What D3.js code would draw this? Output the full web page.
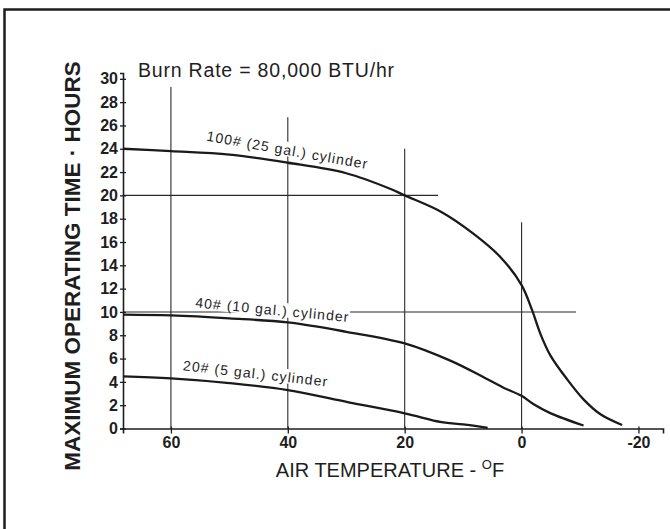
<!DOCTYPE html>
<html>
<head>
<meta charset="utf-8">
<script src="https://cdn.jsdelivr.net/npm/d3@7"></script>
<style>
  body { margin: 0; background: #fff; }
  text { font-family: "Liberation Sans", Arial, Helvetica, sans-serif; fill: #1e1e1e; }
</style>
</head>
<body>
<div id="chart"></div>
<script>
var svgWidth = 670;
var svgHeight = 529;

// Curve data (temperature in F, hours)
var temp100 = [68.2, 60, 50, 40, 30, 22.4, 20, 13.8, 8.2, 3.6, 0, -1.8, -3.2, -4.9, -7.75, -10.6, -13.5, -17.2];
var hours100 = [24.0, 23.8, 23.5, 22.8, 21.9, 20.55, 20.0, 18.6, 16.7, 14.7, 12.3, 10.15, 8.15, 6.3, 4.25, 2.5, 1.22, 0.3];

var temp40 = [68.2, 60, 50, 40, 30, 20, 12.1, 6.5, 3.1, 0, -2, -5, -10.6];
var hours40 = [9.77, 9.7, 9.45, 9.1, 8.3, 7.3, 5.8, 4.4, 3.5, 2.8, 2.1, 1.3, 0.26];

var temp20 = [68.2, 60, 50, 40, 29.6, 20, 13.7, 10, 5.8];
var hours20 = [4.48, 4.3, 3.9, 3.3, 2.25, 1.3, 0.55, 0.35, 0.05];

var curveLabels = ["100# (25 gal.) cylinder", "40# (10 gal.) cylinder", "20# (5 gal.) cylinder"];
var labelTemp = [54, 55.9, 58];
var labelHours = [24.7, 10.4, 5.0];
var labelAngle = [10, 5.5, 6.5];

// reference lines
var gridX = [60, 40, 20, 0];
var gridXTop = [29.3, 26.7, 24.0, 17.7];
var gridY = [20, 10];
var gridYEnd = [14.3, -9.3];

var xTicks = [60, 40, 20, 0, -20];
var yTicks = d3.range(0, 31, 2);

var svg = d3.select("#chart")
    .append("svg")
    .attr("width", svgWidth)
    .attr("height", svgHeight);

// outer frame (runs off the right/bottom edge)
svg.append("rect")
    .attr("x", 4.5)
    .attr("y", 9.5)
    .attr("width", 700)
    .attr("height", 600)
    .attr("fill", "none")
    .attr("stroke", "#1e1e1e")
    .attr("stroke-width", 2.5);

var x = d3.scaleLinear().domain([68.2, -24.2]).range([123, 663]);
var y = d3.scaleLinear().domain([0, 30.5]).range([428.5, 73]);

// grid lines
svg.selectAll(".vgrid")
    .data(gridX)
    .enter()
    .append("line")
    .attr("x1", d => x(d))
    .attr("x2", d => x(d))
    .attr("y1", y(0))
    .attr("y2", (d, i) => y(gridXTop[i]))
    .attr("stroke", "#2a2a2a")
    .attr("stroke-width", 1.1);

svg.selectAll(".hgrid")
    .data(gridY)
    .enter()
    .append("line")
    .attr("x1", x(68.2))
    .attr("x2", (d, i) => x(gridYEnd[i]))
    .attr("y1", d => y(d))
    .attr("y2", d => y(d))
    .attr("stroke", "#2a2a2a")
    .attr("stroke-width", 1.1);

// axes
var leftAxis = d3.axisLeft(y).tickValues(yTicks).tickSize(3).tickPadding(2);
var bottomAxis = d3.axisBottom(x).tickValues(xTicks).tickSize(5).tickPadding(3);

var yAxisG = svg.append("g")
    .attr("transform", `translate(${x(68.2)}, 0)`)
    .call(leftAxis);
yAxisG.selectAll(".tick line").attr("x1", 3).attr("x2", -3);

var xAxisG = svg.append("g")
    .attr("transform", `translate(0, ${y(0)})`)
    .call(bottomAxis);
xAxisG.selectAll(".tick line").attr("y1", -2).attr("y2", 5);

[yAxisG, xAxisG].forEach(function(g) {
    g.attr("font-size", 16)
        .attr("font-weight", "bold")
        .attr("font-family", "'Liberation Sans', Arial, sans-serif");
});
svg.selectAll(".domain").attr("stroke", "#1e1e1e").attr("stroke-width", 1.6);
svg.selectAll(".tick line").attr("stroke", "#1e1e1e").attr("stroke-width", 1.3);
svg.selectAll(".tick text").attr("fill", "#1e1e1e");
xAxisG.selectAll(".tick text").text(d => d);

// curves
var line = d3.line()
    .x(d => x(d[0]))
    .y(d => y(d[1]))
    .curve(d3.curveCatmullRom.alpha(0.5));

var series = [
    d3.zip(temp100, hours100),
    d3.zip(temp40, hours40),
    d3.zip(temp20, hours20)
];

// curve labels, white box behind knocks out the grid line
var labelG = svg.selectAll(".clabel")
    .data(curveLabels)
    .enter()
    .append("g")
    .attr("transform", (d, i) => `translate(${x(labelTemp[i])}, ${y(labelHours[i])}) rotate(${labelAngle[i]})`);

labelG.append("text")
    .style("font-size", "14px")
    .style("letter-spacing", "1.1px")
    .text(d => d);

labelG.each(function() {
    var g = d3.select(this);
    var bb = g.select("text").node().getBBox();
    g.insert("rect", "text")
        .attr("x", bb.x)
        .attr("y", bb.y)
        .attr("width", bb.width)
        .attr("height", -bb.y + 1.5)
        .attr("fill", "#fff");
});

svg.selectAll(".curve")
    .data(series)
    .enter()
    .append("path")
    .attr("d", line)
    .attr("fill", "none")
    .attr("stroke", "#1a1a1a")
    .attr("stroke-width", 2.3);

// title
svg.append("text")
    .attr("x", 138)
    .attr("y", 77)
    .style("font-size", "19.5px")
    .style("letter-spacing", "0.8px")
    .text("Burn Rate = 80,000 BTU/hr");

// axis titles
var xTitle = svg.append("text")
    .attr("x", 390)
    .attr("y", 477)
    .attr("text-anchor", "middle")
    .style("font-size", "20px");
xTitle.append("tspan").text("AIR TEMPERATURE - ");
xTitle.append("tspan").attr("dy", -8).style("font-size", "13px").text("O");
xTitle.append("tspan").attr("dy", 8).text("F");

svg.append("text")
    .attr("transform", "translate(80, 266) rotate(-90)")
    .attr("text-anchor", "middle")
    .style("font-size", "22.5px")
    .style("font-weight", "bold")
    .text("MAXIMUM OPERATING TIME · HOURS");
</script>
</body>
</html>
